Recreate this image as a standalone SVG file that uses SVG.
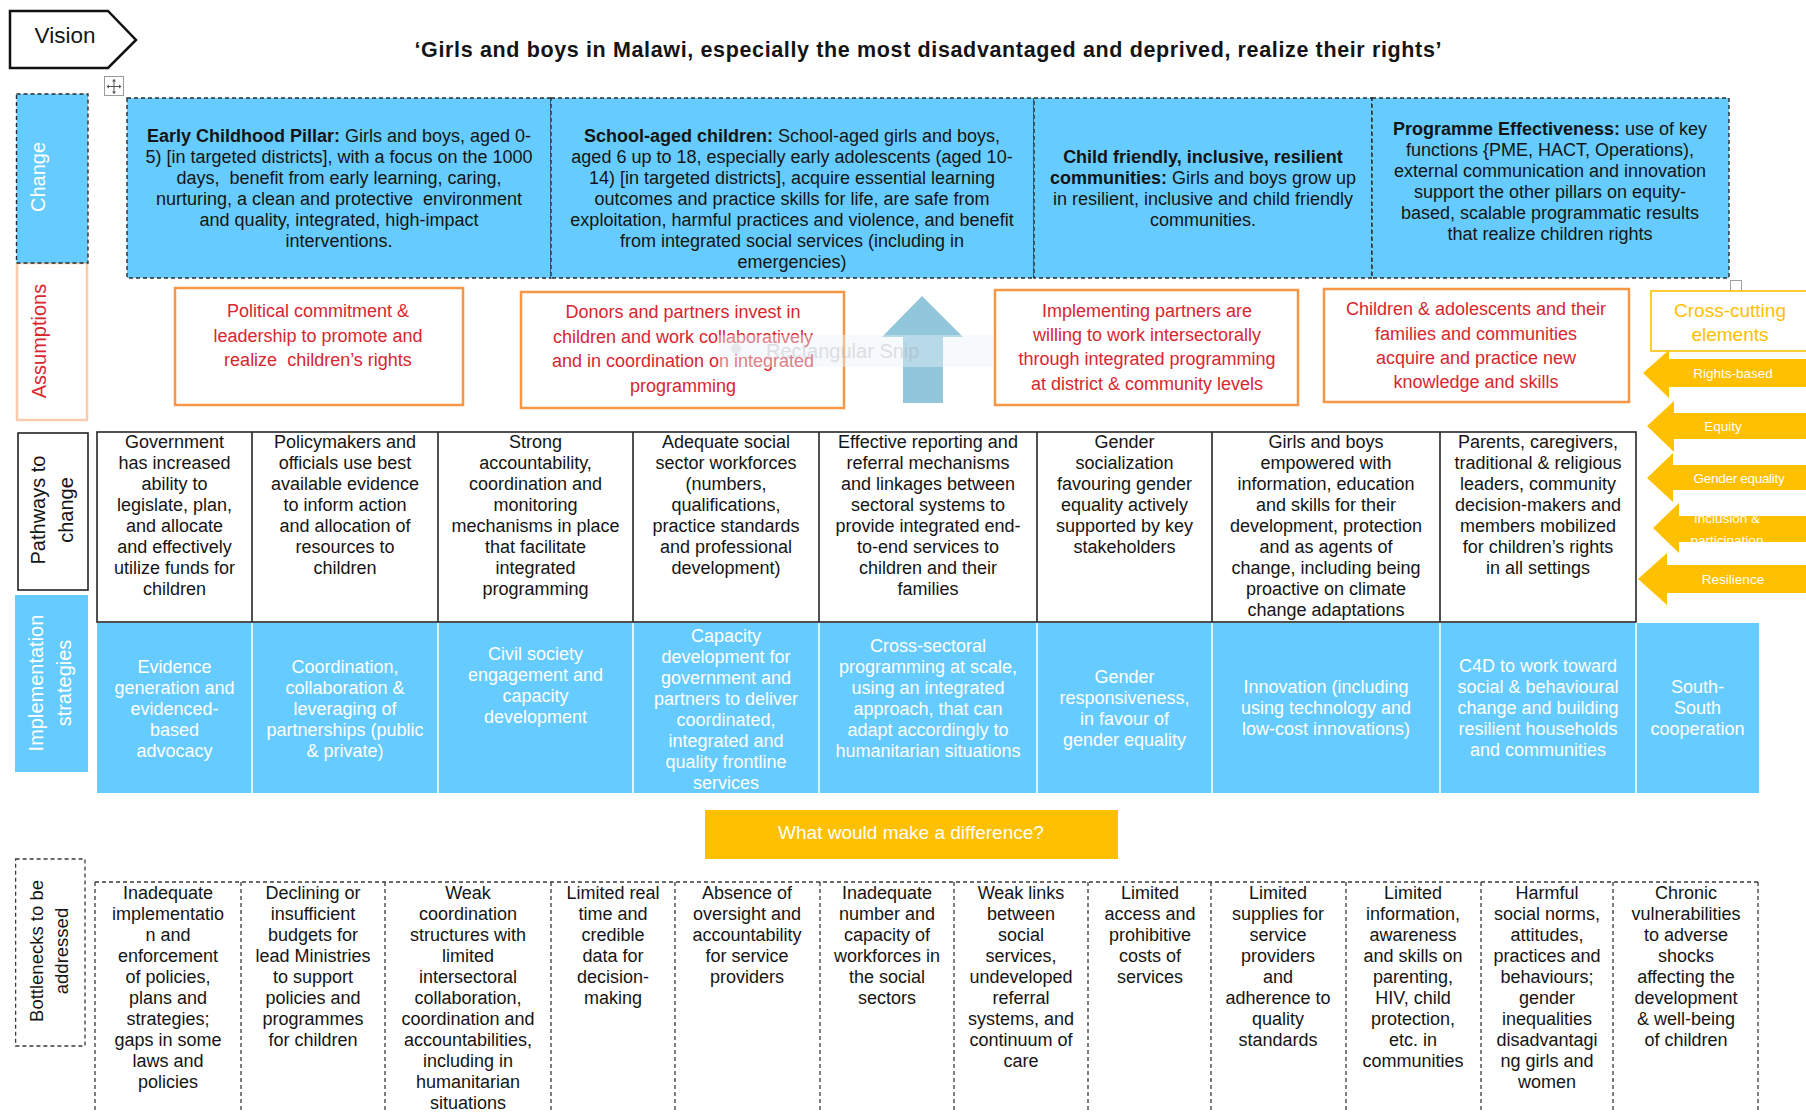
<svg xmlns="http://www.w3.org/2000/svg" width="1806" height="1113" viewBox="0 0 1806 1113">
<style>
text{font-family:"Liberation Sans",Arial,Helvetica,sans-serif;}
.c{text-anchor:middle}
.f18{font-size:18px}
.k{fill:#141414}
.w{fill:#fff}
.r{fill:#D9262E}
.b{font-weight:bold}
.lbl{font-size:20px}
.chg{fill:#66CCFF;stroke:#2b2b2b;stroke-width:1.4;stroke-dasharray:4 3}
.asm{fill:#fff;stroke:#F79646;stroke-width:2.5}
.pth{fill:none;stroke:#262626;stroke-width:1.6}
.bn{fill:none;stroke:#3a3a3a;stroke-width:1.3;stroke-dasharray:4 3}
.yarr{fill:#FFC000}
.yt{font-size:13.5px;fill:#fff;text-anchor:middle}
</style>
<rect width="1806" height="1113" fill="#fff"/>

<!-- Vision banner and headline -->
<g id="vision">
<polygon points="10,11 108,11 136,40 108,68 10,68" fill="#fff" stroke="#111" stroke-width="2.5"/>
<text x="65" y="43" class="c k" font-size="22.5">Vision</text>
</g>
<g id="title">
<text x="928" y="57" class="c b k" font-size="21.5" textLength="1027" lengthAdjust="spacing">‘Girls and boys in Malawi, especially the most disadvantaged and deprived, realize their rights’</text>
</g>
<g id="move-handle">
<rect x="104.5" y="76.5" width="19" height="19" fill="#fff" stroke="#9a9a9a"/>
<path d="M114 79.5v14M107 86.5h14" stroke="#555" stroke-width="1"/>
<path d="M114 79l-2 2.5h4zM114 94l-2-2.5h4zM106.5 86.5l2.5-2v4zM121.5 86.5l-2.5-2v4z" fill="#555"/>
</g>

<!-- Row labels down the left side -->
<g id="row-labels">
<rect x="17" y="263" width="70" height="157" fill="#fff" stroke="#F8CBAD" stroke-width="2.5"/>
<text transform="translate(45.5,341) rotate(-90)" class="c r lbl">Assumptions</text>
<rect x="16.5" y="94" width="71.5" height="169" class="chg"/>
<text transform="translate(44.5,177) rotate(-90)" class="c w lbl">Change</text>
<rect x="18" y="433" width="70" height="157" fill="#fff" stroke="#222" stroke-width="1.6"/>
<text transform="translate(44.5,510) rotate(-90)" class="c k lbl">Pathways to</text>
<text transform="translate(72.5,510) rotate(-90)" class="c k lbl">change</text>
<rect x="15" y="595" width="73" height="177" fill="#66CCFF"/>
<text transform="translate(43,683) rotate(-90)" class="c w lbl">Implementation</text>
<text transform="translate(71,683) rotate(-90)" class="c w lbl">strategies</text>
<rect x="15.6" y="859" width="69.4" height="187" class="bn"/>
<text transform="translate(43,951) rotate(-90)" class="c k" font-size="18.5">Bottlenecks to be</text>
<text transform="translate(68,951) rotate(-90)" class="c k" font-size="18.5">addressed</text>
</g>

<!-- Change pillars -->
<g id="change-early-childhood">
<rect x="127" y="98" width="424" height="180" class="chg"/>
<text class="f18 k c" x="339" y="142"><tspan class="b">Early Childhood Pillar:</tspan> Girls and boys, aged 0-</text>
<text class="f18 k c" x="339" y="163">5) [in targeted districts], with a focus on the 1000</text>
<text class="f18 k c" x="339" y="184">days,&#160; benefit from early learning, caring,</text>
<text class="f18 k c" x="339" y="205">nurturing, a clean and protective&#160; environment</text>
<text class="f18 k c" x="339" y="226">and quality, integrated, high-impact</text>
<text class="f18 k c" x="339" y="247">interventions.</text>
</g>
<g id="change-school-aged">
<rect x="551" y="98" width="483" height="180" class="chg"/>
<text class="f18 k c" x="792" y="142"><tspan class="b">School-aged children:</tspan> School-aged girls and boys,</text>
<text class="f18 k c" x="792" y="163">aged 6 up to 18, especially early adolescents (aged 10-</text>
<text class="f18 k c" x="792" y="184">14) [in targeted districts], acquire essential learning</text>
<text class="f18 k c" x="792" y="205">outcomes and practice skills for life, are safe from</text>
<text class="f18 k c" x="792" y="226">exploitation, harmful practices and violence, and benefit</text>
<text class="f18 k c" x="792" y="247">from integrated social services (including in</text>
<text class="f18 k c" x="792" y="268">emergencies)</text>
</g>
<g id="change-communities">
<rect x="1034" y="98" width="338" height="180" class="chg"/>
<text class="f18 k c b" x="1203" y="163">Child friendly, inclusive, resilient</text>
<text class="f18 k c" x="1203" y="184"><tspan class="b">communities:</tspan> Girls and boys grow up</text>
<text class="f18 k c" x="1203" y="205">in resilient, inclusive and child friendly</text>
<text class="f18 k c" x="1203" y="226">communities.</text>
</g>
<g id="change-programme-effectiveness">
<rect x="1372" y="98" width="357" height="180" class="chg"/>
<text class="f18 k c" x="1550" y="135"><tspan class="b">Programme Effectiveness:</tspan> use of key</text>
<text class="f18 k c" x="1550" y="156">functions {PME, HACT, Operations),</text>
<text class="f18 k c" x="1550" y="177">external communication and innovation</text>
<text class="f18 k c" x="1550" y="198">support the other pillars on equity-</text>
<text class="f18 k c" x="1550" y="219">based, scalable programmatic results</text>
<text class="f18 k c" x="1550" y="240">that realize children rights</text>
<rect x="1730.5" y="280.5" width="11" height="11" fill="#fff" stroke="#a0a0a0"/>
</g>

<!-- Assumptions -->
<g id="assumption-political">
<rect x="175" y="288" width="288" height="117" class="asm"/>
<text class="f18 r c" x="318" y="317">Political commitment &amp;</text>
<text class="f18 r c" x="318" y="342">leadership to promote and</text>
<text class="f18 r c" x="318" y="366">realize&#160; children’s rights</text>
</g>
<g id="assumption-donors">
<rect x="521" y="292" width="323" height="116" class="asm"/>
<text class="f18 r c" x="683" y="318">Donors and partners invest in</text>
<text class="f18 r c" x="683" y="343">children and work collaboratively</text>
<text class="f18 r c" x="683" y="367">and in coordination on integrated</text>
<text class="f18 r c" x="683" y="392">programming</text>
</g>
<g id="assumption-partners">
<rect x="995" y="290" width="303" height="115" class="asm"/>
<text class="f18 r c" x="1147" y="317">Implementing partners are</text>
<text class="f18 r c" x="1147" y="341">willing to work intersectorally</text>
<text class="f18 r c" x="1147" y="365">through integrated programming</text>
<text class="f18 r c" x="1147" y="390">at district &amp; community levels</text>
</g>
<g id="assumption-families">
<rect x="1324" y="289" width="305" height="113" class="asm"/>
<text class="f18 r c" x="1476" y="315">Children &amp; adolescents and their</text>
<text class="f18 r c" x="1476" y="340">families and communities</text>
<text class="f18 r c" x="1476" y="364">acquire and practice new</text>
<text class="f18 r c" x="1476" y="388">knowledge and skills</text>
</g>

<!-- Cross-cutting elements -->
<g id="cross-cutting">
<rect x="1651" y="291" width="160" height="60" fill="#fff" stroke="#FFC000" stroke-width="1.6"/>
<text x="1730" y="317" class="c" font-size="19" fill="#FFC000">Cross-cutting</text>
<text x="1730" y="341" class="c" font-size="19" fill="#FFC000">elements</text>
<polygon class="yarr" points="1643,373 1669,350 1669,359 1806,359 1806,387 1669,387 1669,398"/>
<text x="1733" y="378" class="yt">Rights-based</text>
<polygon class="yarr" points="1647,426 1674,401 1674,413 1806,413 1806,439 1674,439 1674,452"/>
<text x="1723" y="431" class="yt">Equity</text>
<polygon class="yarr" points="1647,478 1673,453 1673,465 1806,465 1806,490 1673,490 1673,502"/>
<text x="1739" y="483" class="yt" letter-spacing="-0.3">Gender equality</text>
<polygon class="yarr" points="1653,528 1679,503 1679,516 1806,516 1806,542 1679,542 1679,553"/>
<text x="1727" y="523" class="yt">Inclusion &amp;</text>
<text x="1727" y="545" class="yt">participation</text>
<polygon class="yarr" points="1638,579 1667,553 1667,565 1806,565 1806,593 1667,593 1667,605"/>
<text x="1733" y="584" class="yt">Resilience</text>
</g>

<!-- Upward arrow from pathways toward change -->
<g id="connectors">
<polygon points="922,296 963,337 943,337 943,403 903,403 903,337 882,337" fill="#92C6DA"/>
</g>

<!-- Screen-capture tool remnant lying over the assumptions row -->
<g id="snip-overlay" opacity="0.6">
<rect x="719" y="335" width="274" height="32" fill="#EEF3F9" opacity="0.7"/>
<circle cx="736" cy="349" r="5" fill="#D6DAE0"/>
<text x="766" y="358" font-size="20" fill="#C4C9D0">Rectangular Snip</text>
</g>

<!-- Pathways to change -->
<g id="pathways">
<rect x="97" y="432" width="1539" height="190" class="pth"/>
<path d="M252 432V622M438 432V622M633 432V622M819 432V622M1037 432V622M1212 432V622M1440 432V622" class="pth"/>
<text class="f18 k c" y="448"><tspan x="174.5">Government</tspan><tspan x="174.5" dy="21">has increased</tspan><tspan x="174.5" dy="21">ability to</tspan><tspan x="174.5" dy="21">legislate, plan,</tspan><tspan x="174.5" dy="21">and allocate</tspan><tspan x="174.5" dy="21">and effectively</tspan><tspan x="174.5" dy="21">utilize funds for</tspan><tspan x="174.5" dy="21">children</tspan></text>
<text class="f18 k c" y="448"><tspan x="345">Policymakers and</tspan><tspan x="345" dy="21">officials use best</tspan><tspan x="345" dy="21">available evidence</tspan><tspan x="345" dy="21">to inform action</tspan><tspan x="345" dy="21">and allocation of</tspan><tspan x="345" dy="21">resources to</tspan><tspan x="345" dy="21">children</tspan></text>
<text class="f18 k c" y="448"><tspan x="535.5">Strong</tspan><tspan x="535.5" dy="21">accountability,</tspan><tspan x="535.5" dy="21">coordination and</tspan><tspan x="535.5" dy="21">monitoring</tspan><tspan x="535.5" dy="21">mechanisms in place</tspan><tspan x="535.5" dy="21">that facilitate</tspan><tspan x="535.5" dy="21">integrated</tspan><tspan x="535.5" dy="21">programming</tspan></text>
<text class="f18 k c" y="448"><tspan x="726">Adequate social</tspan><tspan x="726" dy="21">sector workforces</tspan><tspan x="726" dy="21">(numbers,</tspan><tspan x="726" dy="21">qualifications,</tspan><tspan x="726" dy="21">practice standards</tspan><tspan x="726" dy="21">and professional</tspan><tspan x="726" dy="21">development)</tspan></text>
<text class="f18 k c" y="448"><tspan x="928">Effective reporting and</tspan><tspan x="928" dy="21">referral mechanisms</tspan><tspan x="928" dy="21">and linkages between</tspan><tspan x="928" dy="21">sectoral systems to</tspan><tspan x="928" dy="21">provide integrated end-</tspan><tspan x="928" dy="21">to-end services to</tspan><tspan x="928" dy="21">children and their</tspan><tspan x="928" dy="21">families</tspan></text>
<text class="f18 k c" y="448"><tspan x="1124.5">Gender</tspan><tspan x="1124.5" dy="21">socialization</tspan><tspan x="1124.5" dy="21">favouring gender</tspan><tspan x="1124.5" dy="21">equality actively</tspan><tspan x="1124.5" dy="21">supported by key</tspan><tspan x="1124.5" dy="21">stakeholders</tspan></text>
<text class="f18 k c" y="448"><tspan x="1326">Girls and boys</tspan><tspan x="1326" dy="21">empowered with</tspan><tspan x="1326" dy="21">information, education</tspan><tspan x="1326" dy="21">and skills for their</tspan><tspan x="1326" dy="21">development, protection</tspan><tspan x="1326" dy="21">and as agents of</tspan><tspan x="1326" dy="21">change, including being</tspan><tspan x="1326" dy="21">proactive on climate</tspan><tspan x="1326" dy="21">change adaptations</tspan></text>
<text class="f18 k c" y="448"><tspan x="1538">Parents, caregivers,</tspan><tspan x="1538" dy="21">traditional &amp; religious</tspan><tspan x="1538" dy="21">leaders, community</tspan><tspan x="1538" dy="21">decision-makers and</tspan><tspan x="1538" dy="21">members mobilized</tspan><tspan x="1538" dy="21">for children’s rights</tspan><tspan x="1538" dy="21">in all settings</tspan></text>
</g>

<!-- Implementation strategies -->
<g id="implementation">
<rect x="97" y="623" width="1662" height="170" fill="#66CCFF"/>
<path d="M252 623V793M438 623V793M633 623V793M819 623V793M1037 623V793M1212 623V793M1440 623V793M1636 623V793" stroke="#fff" stroke-width="1.5"/>
<text class="f18 w c" y="673"><tspan x="174.5">Evidence</tspan><tspan x="174.5" dy="21">generation and</tspan><tspan x="174.5" dy="21">evidenced-</tspan><tspan x="174.5" dy="21">based</tspan><tspan x="174.5" dy="21">advocacy</tspan></text>
<text class="f18 w c" y="673"><tspan x="345">Coordination,</tspan><tspan x="345" dy="21">collaboration &amp;</tspan><tspan x="345" dy="21">leveraging of</tspan><tspan x="345" dy="21">partnerships (public</tspan><tspan x="345" dy="21">&amp; private)</tspan></text>
<text class="f18 w c" y="660"><tspan x="535.5">Civil society</tspan><tspan x="535.5" dy="21">engagement and</tspan><tspan x="535.5" dy="21">capacity</tspan><tspan x="535.5" dy="21">development</tspan></text>
<text class="f18 w c" y="642"><tspan x="726">Capacity</tspan><tspan x="726" dy="21">development for</tspan><tspan x="726" dy="21">government and</tspan><tspan x="726" dy="21">partners to deliver</tspan><tspan x="726" dy="21">coordinated,</tspan><tspan x="726" dy="21">integrated and</tspan><tspan x="726" dy="21">quality frontline</tspan><tspan x="726" dy="21">services</tspan></text>
<text class="f18 w c" y="652"><tspan x="928">Cross-sectoral</tspan><tspan x="928" dy="21">programming at scale,</tspan><tspan x="928" dy="21">using an integrated</tspan><tspan x="928" dy="21">approach, that can</tspan><tspan x="928" dy="21">adapt accordingly to</tspan><tspan x="928" dy="21">humanitarian situations</tspan></text>
<text class="f18 w c" y="683"><tspan x="1124.5">Gender</tspan><tspan x="1124.5" dy="21">responsiveness,</tspan><tspan x="1124.5" dy="21">in favour of</tspan><tspan x="1124.5" dy="21">gender equality</tspan></text>
<text class="f18 w c" y="693"><tspan x="1326">Innovation (including</tspan><tspan x="1326" dy="21">using technology and</tspan><tspan x="1326" dy="21">low-cost innovations)</tspan></text>
<text class="f18 w c" y="672"><tspan x="1538">C4D to work toward</tspan><tspan x="1538" dy="21">social &amp; behavioural</tspan><tspan x="1538" dy="21">change and building</tspan><tspan x="1538" dy="21">resilient households</tspan><tspan x="1538" dy="21">and communities</tspan></text>
<text class="f18 w c" y="693"><tspan x="1697.5">South-</tspan><tspan x="1697.5" dy="21">South</tspan><tspan x="1697.5" dy="21">cooperation</tspan></text>
</g>

<!-- What would make a difference? -->
<g id="difference">
<rect x="705" y="810" width="413" height="49" fill="#FFC000"/>
<text x="911" y="839" class="c w" font-size="19">What would make a difference?</text>
</g>

<!-- Bottlenecks to be addressed -->
<g id="bottlenecks">
<path d="M95 882H1758" class="bn"/>
<path d="M95 882V1113M241 882V1113M385 882V1113M551 882V1113M675 882V1113M820 882V1113M954 882V1113M1088 882V1113M1211 882V1113M1346 882V1113M1481 882V1113M1613 882V1113M1758 882V1113" class="bn"/>
<text class="f18 k c" y="899"><tspan x="168">Inadequate</tspan><tspan x="168" dy="21">implementatio</tspan><tspan x="168" dy="21">n and</tspan><tspan x="168" dy="21">enforcement</tspan><tspan x="168" dy="21">of policies,</tspan><tspan x="168" dy="21">plans and</tspan><tspan x="168" dy="21">strategies;</tspan><tspan x="168" dy="21">gaps in some</tspan><tspan x="168" dy="21">laws and</tspan><tspan x="168" dy="21">policies</tspan></text>
<text class="f18 k c" y="899"><tspan x="313">Declining or</tspan><tspan x="313" dy="21">insufficient</tspan><tspan x="313" dy="21">budgets for</tspan><tspan x="313" dy="21">lead Ministries</tspan><tspan x="313" dy="21">to support</tspan><tspan x="313" dy="21">policies and</tspan><tspan x="313" dy="21">programmes</tspan><tspan x="313" dy="21">for children</tspan></text>
<text class="f18 k c" y="899"><tspan x="468">Weak</tspan><tspan x="468" dy="21">coordination</tspan><tspan x="468" dy="21">structures with</tspan><tspan x="468" dy="21">limited</tspan><tspan x="468" dy="21">intersectoral</tspan><tspan x="468" dy="21">collaboration,</tspan><tspan x="468" dy="21">coordination and</tspan><tspan x="468" dy="21">accountabilities,</tspan><tspan x="468" dy="21">including in</tspan><tspan x="468" dy="21">humanitarian</tspan><tspan x="468" dy="21">situations</tspan></text>
<text class="f18 k c" y="899"><tspan x="613">Limited real</tspan><tspan x="613" dy="21">time and</tspan><tspan x="613" dy="21">credible</tspan><tspan x="613" dy="21">data for</tspan><tspan x="613" dy="21">decision-</tspan><tspan x="613" dy="21">making</tspan></text>
<text class="f18 k c" y="899"><tspan x="747">Absence of</tspan><tspan x="747" dy="21">oversight and</tspan><tspan x="747" dy="21">accountability</tspan><tspan x="747" dy="21">for service</tspan><tspan x="747" dy="21">providers</tspan></text>
<text class="f18 k c" y="899"><tspan x="887">Inadequate</tspan><tspan x="887" dy="21">number and</tspan><tspan x="887" dy="21">capacity of</tspan><tspan x="887" dy="21">workforces in</tspan><tspan x="887" dy="21">the social</tspan><tspan x="887" dy="21">sectors</tspan></text>
<text class="f18 k c" y="899"><tspan x="1021">Weak links</tspan><tspan x="1021" dy="21">between</tspan><tspan x="1021" dy="21">social</tspan><tspan x="1021" dy="21">services,</tspan><tspan x="1021" dy="21">undeveloped</tspan><tspan x="1021" dy="21">referral</tspan><tspan x="1021" dy="21">systems, and</tspan><tspan x="1021" dy="21">continuum of</tspan><tspan x="1021" dy="21">care</tspan></text>
<text class="f18 k c" y="899"><tspan x="1150">Limited</tspan><tspan x="1150" dy="21">access and</tspan><tspan x="1150" dy="21">prohibitive</tspan><tspan x="1150" dy="21">costs of</tspan><tspan x="1150" dy="21">services</tspan></text>
<text class="f18 k c" y="899"><tspan x="1278">Limited</tspan><tspan x="1278" dy="21">supplies for</tspan><tspan x="1278" dy="21">service</tspan><tspan x="1278" dy="21">providers</tspan><tspan x="1278" dy="21">and</tspan><tspan x="1278" dy="21">adherence to</tspan><tspan x="1278" dy="21">quality</tspan><tspan x="1278" dy="21">standards</tspan></text>
<text class="f18 k c" y="899"><tspan x="1413">Limited</tspan><tspan x="1413" dy="21">information,</tspan><tspan x="1413" dy="21">awareness</tspan><tspan x="1413" dy="21">and skills on</tspan><tspan x="1413" dy="21">parenting,</tspan><tspan x="1413" dy="21">HIV, child</tspan><tspan x="1413" dy="21">protection,</tspan><tspan x="1413" dy="21">etc. in</tspan><tspan x="1413" dy="21">communities</tspan></text>
<text class="f18 k c" y="899"><tspan x="1547">Harmful</tspan><tspan x="1547" dy="21">social norms,</tspan><tspan x="1547" dy="21">attitudes,</tspan><tspan x="1547" dy="21">practices and</tspan><tspan x="1547" dy="21">behaviours;</tspan><tspan x="1547" dy="21">gender</tspan><tspan x="1547" dy="21">inequalities</tspan><tspan x="1547" dy="21">disadvantagi</tspan><tspan x="1547" dy="21">ng girls and</tspan><tspan x="1547" dy="21">women</tspan></text>
<text class="f18 k c" y="899"><tspan x="1686">Chronic</tspan><tspan x="1686" dy="21">vulnerabilities</tspan><tspan x="1686" dy="21">to adverse</tspan><tspan x="1686" dy="21">shocks</tspan><tspan x="1686" dy="21">affecting the</tspan><tspan x="1686" dy="21">development</tspan><tspan x="1686" dy="21">&amp; well-being</tspan><tspan x="1686" dy="21">of children</tspan></text>
</g>
</svg>
